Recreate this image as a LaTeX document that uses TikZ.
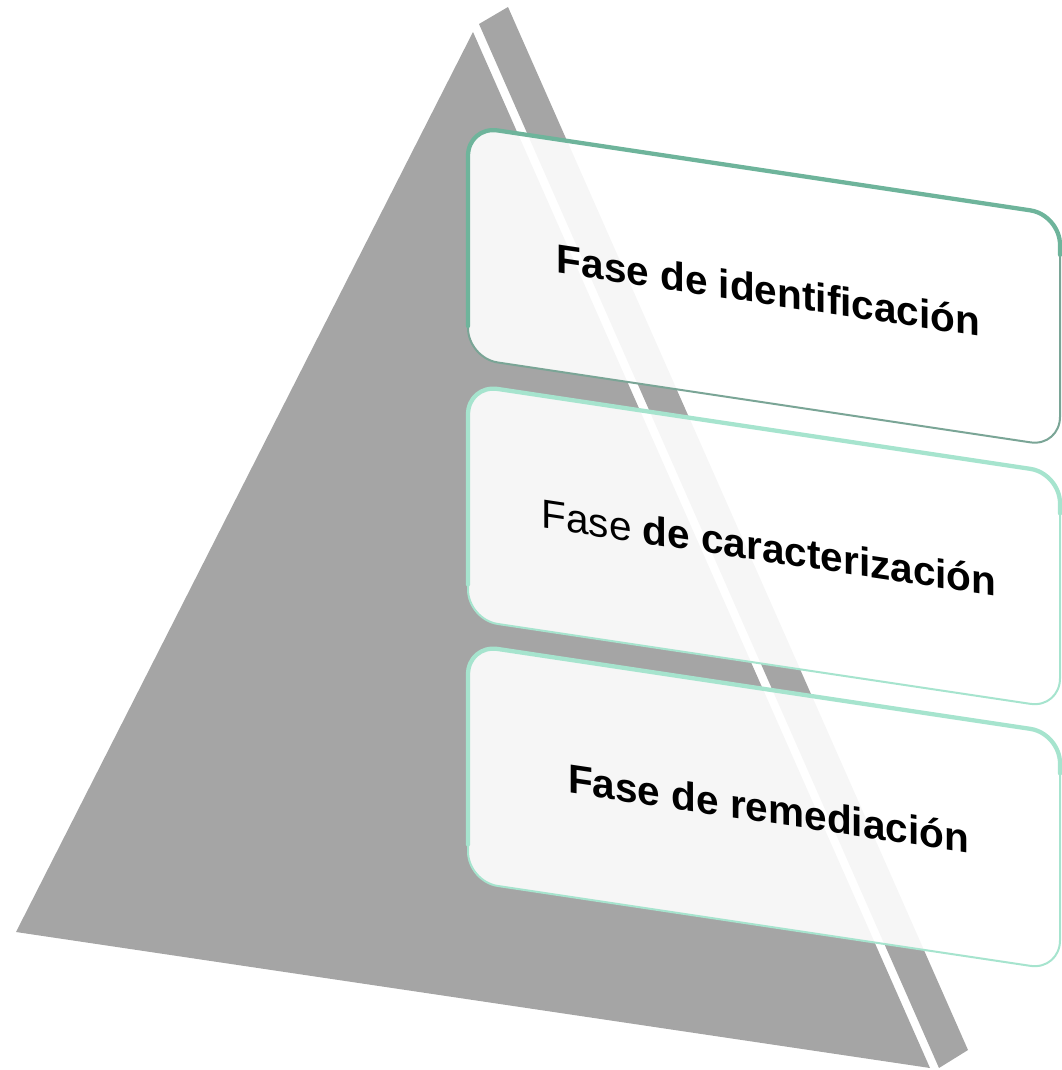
\documentclass[tikz,border=0pt]{standalone}
\usepackage{fontspec}
\setmainfont{Liberation Sans}
\begin{document}
\begin{tikzpicture}[x=0.75pt,y=-0.75pt,
  pyrface/.style={fill=pyr},
  boxbody/.style={fill=white,fill opacity=0.9,rounded corners=22.5pt},
  edgeA/.style={draw=#1,line width=1.5pt,rounded corners=22.5pt},
  edgeB/.style={draw=#1,line width=3.2pt,rounded corners=22.5pt,line cap=round},
  phase/.style={font=\fontsize{30.4pt}{36pt}\selectfont,text=black,inner sep=0pt,anchor=base,transform shape}]
\definecolor{pyr}{RGB}{165,165,165}
\definecolor{tealA}{RGB}{110,180,155}
\definecolor{tealB}{RGB}{122,165,150}
\definecolor{mint}{RGB}{166,228,206}
\useasboundingbox (0,0) rectangle (1061,1070);
% pyramid
\fill[pyrface] (473,32) -- (930,1068) -- (16,932) -- cycle;
\fill[pyrface] (479,24) -- (508,7) -- (968,1050) -- (939,1068) -- cycle;
% box 1
\begin{scope}[shift={(468,126)},yslant=-0.15]
  \path[boxbody] (0,0) rectangle (592,232);
  \draw[edgeA=tealB] (0,0) rectangle (592,232);
  \draw[edgeB=tealA] (0,200) -- (0,0) -- (592,0) -- (592,40);
  \node[phase] (t1) at (300.5,133.6) {\bfseries Fase de identificación};
\end{scope}
% box 2
\begin{scope}[shift={(468,384.5)},yslant=-0.15]
  \path[boxbody] (0,0) rectangle (592,235);
  \draw[edgeA=mint] (0,0) rectangle (592,235);
  \draw[edgeB=mint] (0,200) -- (0,0) -- (592,0) -- (592,40);
  \node[phase] (t2) at (301,132.4) {Fase \bfseries de caracterización};
\end{scope}
% box 3
\begin{scope}[shift={(468,644.5)},yslant=-0.15]
  \path[boxbody] (0,0) rectangle (592,237);
  \draw[edgeA=mint] (0,0) rectangle (592,237);
  \draw[edgeB=mint] (0,200) -- (0,0) -- (592,0) -- (592,40);
  \node[phase] (t3) at (300.5,133.4) {\bfseries Fase de remediación};
\end{scope}
\end{tikzpicture}
\end{document}
